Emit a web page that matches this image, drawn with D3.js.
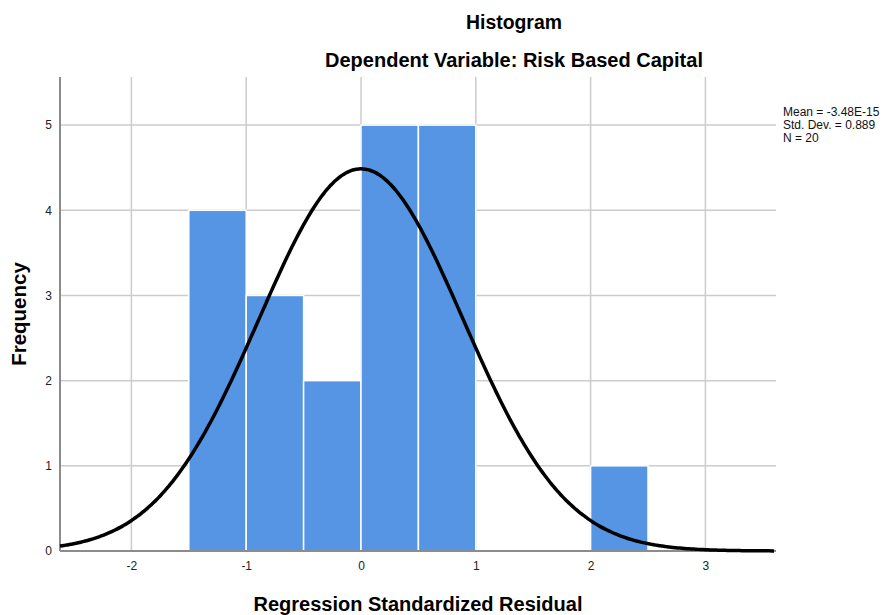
<!DOCTYPE html>
<html><head><meta charset="utf-8">
<script src="https://cdn.jsdelivr.net/npm/d3@7"></script>
<style>body{margin:0;background:#fff}text{font-family:"Liberation Sans",Arial,sans-serif}</style>
</head><body>
<svg id="c" width="891" height="615"></svg>
<script>
const binStarts = [-1.5, -1.0, -0.5, 0.0, 0.5, 2.0];
const binCounts = [4, 3, 2, 5, 5, 1];
const binWidth = 0.5;
const xTicks = [-2, -1, 0, 1, 2, 3];
const yTicks = [0, 1, 2, 3, 4, 5];
const statLabels = ["Mean = -3.48E-15", "Std. Dev. = 0.889", "N = 20"];
const fitMean = -3.48e-15, fitSd = 0.889, fitN = 20;

const svg = d3.select("#c");
const L = 60, R = 776, T = 77, B = 551;
const x = d3.scaleLinear().domain([-2.622, 3.615]).range([L, R]);
const y = d3.scaleLinear().domain([0, 5.565]).range([B, T]);
const grid = "#cccccc";

// gridlines
svg.append("g").selectAll("line").data(yTicks.filter(d=>d>0)).join("line")
  .attr("x1", L).attr("x2", R).attr("y1", d=>y(d)).attr("y2", d=>y(d))
  .attr("stroke", grid).attr("stroke-width", 1.5);
svg.append("g").selectAll("line").data(xTicks).join("line")
  .attr("x1", d=>x(d)).attr("x2", d=>x(d)).attr("y1", T).attr("y2", B)
  .attr("stroke", grid).attr("stroke-width", 1.5);

// bars
svg.append("g").selectAll("rect").data(binStarts).join("rect")
  .attr("x", d=>x(d)).attr("width", d=>x(d+binWidth)-x(d))
  .attr("y", (d,i)=>y(binCounts[i])).attr("height", (d,i)=>B-y(binCounts[i]))
  .attr("fill", "#5595e3").attr("stroke", "#ffffff").attr("stroke-width", 1.5);

// axes
const xa = svg.append("g").attr("transform", `translate(0,${B})`)
  .call(d3.axisBottom(x).tickValues(xTicks).tickSize(0).tickPadding(10).tickFormat(d=>String(d)));
const ya = svg.append("g").attr("transform", `translate(${L},0)`)
  .call(d3.axisLeft(y).tickValues(yTicks).tickSize(0).tickPadding(8).tickFormat(d=>String(d)));
[xa, ya].forEach(a => {
  a.select(".domain").attr("stroke", "#8c8c8c").attr("stroke-width", 2);
  a.selectAll("text").attr("font-size", 12).attr("fill", "#222")
   .attr("font-family", '"Liberation Sans",Arial,sans-serif');
});
xa.select(".domain").attr("d", `M${L},0H${R}`);
ya.select(".domain").attr("d", `M0,${T}V${B}`);

// normal curve
const xs = d3.range(x.domain()[0], x.domain()[1] + 0.001, 0.02);
const dens = v => fitN * binWidth / (fitSd * Math.sqrt(2*Math.PI)) * Math.exp(-0.5*((v-fitMean)/fitSd)**2);
svg.append("path").datum(xs)
  .attr("d", d3.line().x(d=>x(d)).y(d=>y(dens(d))).curve(d3.curveBasis))
  .attr("fill", "none").attr("stroke", "#000").attr("stroke-width", 3.5);

// titles
svg.append("text").attr("x", 514).attr("y", 29).attr("text-anchor", "middle")
  .attr("font-size", 19.4).attr("font-weight", "bold").text("Histogram");
svg.append("text").attr("x", 514).attr("y", 67).attr("text-anchor", "middle")
  .attr("font-size", 20).attr("font-weight", "bold").text("Dependent Variable: Risk Based Capital");
svg.append("text").attr("x", 418).attr("y", 611).attr("text-anchor", "middle")
  .attr("font-size", 20).attr("font-weight", "bold").text("Regression Standardized Residual");
svg.append("text").attr("transform", "translate(26,314) rotate(-90)").attr("text-anchor", "middle")
  .attr("font-size", 20.5).attr("font-weight", "bold").text("Frequency");

// stats
svg.append("g").selectAll("text").data(statLabels).join("text")
  .attr("x", 783).attr("y", (d,i)=>116 + i*13).attr("font-size", 12).attr("fill", "#111").text(d=>d);
</script>
</body></html>
